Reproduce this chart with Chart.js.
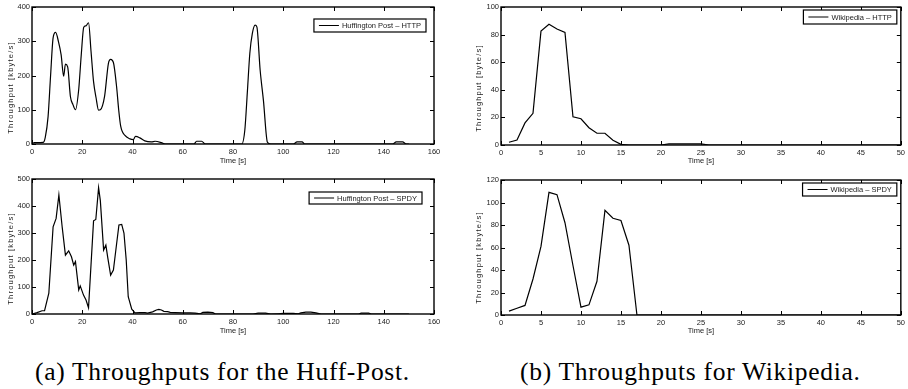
<!DOCTYPE html>
<html>
<head>
<meta charset="utf-8">
<script src="https://cdn.jsdelivr.net/npm/chart.js@4.4.1/dist/chart.umd.min.js"></script>
<style>
  html, body { margin: 0; padding: 0; background: #fff; }
  body { width: 908px; height: 389px; position: relative; overflow: hidden; }
  canvas { position: absolute; }
  .caption {
    position: absolute;
    font-family: 'Liberation Serif', 'DejaVu Serif', serif;
    font-size: 25.5px;
    letter-spacing: 0.7px;
    line-height: 1;
    color: #000;
    white-space: nowrap;
  }
</style>
</head>
<body>
<canvas id="huff-http" width="450" height="168" style="left:0;top:0"></canvas>
<canvas id="huff-spdy" width="450" height="168" style="left:0;top:170px"></canvas>
<canvas id="wiki-http" width="448" height="168" style="left:460px;top:0"></canvas>
<canvas id="wiki-spdy" width="448" height="168" style="left:460px;top:170px"></canvas>
<div class="caption" style="left:35px;top:359px">(a) Throughputs for the Huff-Post.</div>
<div class="caption" style="left:520px;top:359px">(b) Throughputs for Wikipedia.</div>
<script>
// Huffington Post, HTTP (time in s, throughput in kbyte/s)
const huffHttpTime = [0, 1, 4.5, 5.3, 6.4, 7.4, 8.4, 9.4, 10.5, 11.6, 12.6, 13.3, 14.2, 15.3, 16.3, 17.3, 18.6, 19.6,
  20.6, 21.5, 22.5, 23.5, 24.5, 25.5, 26.5, 27.2, 28.9, 30.4, 31.3, 32.4, 33.7, 34.5, 35.3, 37, 39, 40.3, 41.2, 42.9,
  44.9, 47.5, 49, 51.5, 53, 64.5, 65.5, 67.5, 69, 83.5, 84.7, 85.7, 86.7, 87.7, 88.8, 89.5, 90.8, 92.1, 93.7, 95,
  104, 105.5, 107.5, 108.5, 143.5, 145, 147.5, 149, 150];
const huffHttpValues = [2, 4, 5, 20, 80, 200, 310, 326, 300, 260, 198, 233, 225, 138, 115, 100, 160, 260,
  341, 345, 354, 270, 182, 135, 99, 100, 140, 235, 247, 238, 165, 100, 52, 25, 15, 13, 22, 18,
  9, 6, 8, 4, 0, 0, 8, 8, 0, 0, 40, 150, 265, 323, 347, 342, 216, 128, 5, 0,
  0, 6, 6, 0, 0, 6, 6, 0, 0];

// Huffington Post, SPDY
const huffSpdyTime = [0, 2, 4, 5, 6.7, 8.4, 9.6, 10.7, 12, 13.3, 14.6, 15.7, 16.6, 17.3, 18.6, 19.2, 20.5, 21.5,
  22.5, 24.5, 25.4, 26.5, 27.2, 28.5, 29.4, 30.2, 31.3, 32.4, 33.7, 34.6, 35.7, 36.6, 37.5, 38.3, 39.7, 41, 43,
  45, 46, 48, 49.5, 50.5, 51.5, 52.5, 54, 55, 57, 60, 63, 65, 67, 68, 70, 72, 73, 88, 90, 93, 95, 98, 100, 104,
  106, 107, 109, 111, 113, 115, 130, 131, 134, 135, 150];
const huffSpdyValues = [0, 5, 12, 12, 77, 323, 354, 441, 323, 218, 234, 212, 181, 194, 89, 104, 70, 52,
  23, 345, 350, 468, 420, 237, 255, 206, 144, 163, 262, 330, 332, 300, 200, 64, 18, 4, 5,
  5, 3, 8, 15, 17, 15, 10, 9, 6, 5, 4, 4, 3, 1, 6, 7, 5, 0, 0, 3, 3, 0, 1, 2, 2,
  1, 4, 7, 7, 4, 0, 0, 3, 3, 0, 0];

// Wikipedia (time in s)
const wikiTime = [1, 2, 3, 4, 5, 6, 7, 8, 9, 10, 11, 12, 13, 14, 15, 16, 17, 18, 19, 20, 21, 22, 23, 24, 25,
  26, 27, 28, 29, 30, 31, 32, 33, 34, 35, 36, 37, 38, 39, 40, 41, 42, 43, 44, 45, 46, 47, 48, 49, 50];
const wikiHttpValues = [2, 3.6, 16, 23, 82.5, 87.5, 84, 81.5, 20.5, 19, 12.5, 8.5, 8.5, 3.5, 0.5, 0, 0, 0, 0, 0,
  0.8, 0.8, 0.8, 0.8, 0.8, 0, 0, 0, 0, 0, 0, 0, 0, 0, 0, 0, 0, 0, 0, 0, 0, 0, 0, 0, 0, 0, 0, 0, 0, 0];
const wikiSpdyValues = [3.5, 6, 8.5, 32, 61, 109, 107, 82, 44, 7, 9, 30, 93, 86, 84, 62, 0, 0, 0, 0,
  0, 0, 0, 0, 0, 0, 0, 0, 0, 0, 0, 0, 0, 0, 0, 0, 0, 0, 0, 0, 0, 0, 0, 0, 0, 0, 0, 0, 0, 0];

// Tick labels
const huffXTicks = [0, 20, 40, 60, 80, 100, 120, 140, 160];
const huffHttpYTicks = [0, 100, 200, 300, 400];
const huffSpdyYTicks = [0, 100, 200, 300, 400, 500];
const wikiXTicks = [0, 5, 10, 15, 20, 25, 30, 35, 40, 45, 50];
const wikiHttpYTicks = [0, 20, 40, 60, 80, 100];
const wikiSpdyYTicks = [0, 20, 40, 60, 80, 100, 120];

const tickFont = { family: "'Liberation Sans', Arial, sans-serif", size: 7.5 };
const textColor = '#222';

// Рамка в стиле MATLAB: засечки внутрь со всех сторон, легенда в рамке, подпись оси Y
const matlabFrame = {
  id: 'matlabFrame',
  afterDatasetsDraw(chart, args, opts) {
    const { ctx, chartArea: a, scales: { x, y } } = chart;
    ctx.save();
    ctx.strokeStyle = '#000';
    ctx.lineWidth = 1;
    ctx.beginPath();
    x.ticks.forEach(t => {
      const px = Math.round(x.getPixelForValue(t.value)) + 0.5;
      ctx.moveTo(px, a.bottom); ctx.lineTo(px, a.bottom - 4);
      ctx.moveTo(px, a.top); ctx.lineTo(px, a.top + 4);
    });
    y.ticks.forEach(t => {
      const py = Math.round(y.getPixelForValue(t.value)) + 0.5;
      ctx.moveTo(a.left, py); ctx.lineTo(a.left + 4, py);
      ctx.moveTo(a.right, py); ctx.lineTo(a.right - 4, py);
    });
    ctx.stroke();
    ctx.lineWidth = 1.4;
    ctx.strokeRect(a.left, a.top, a.right - a.left, a.bottom - a.top);

    // Легенда
    const label = chart.data.datasets[0].label;
    ctx.font = `${tickFont.size}px ${tickFont.family}`;
    const tw = ctx.measureText(label).width;
    const w = 5 + 20 + 3 + tw + 5;
    const h = opts.legendHeight;
    const right = a.right - opts.legendRight;
    const top = a.top + opts.legendTop;
    const left = right - w;
    ctx.fillStyle = '#fff';
    ctx.fillRect(left, top, w, h);
    ctx.lineWidth = 1.2;
    ctx.strokeRect(left, top, w, h);
    ctx.lineWidth = 1;
    ctx.beginPath();
    ctx.moveTo(left + 5, top + h / 2);
    ctx.lineTo(left + 25, top + h / 2);
    ctx.stroke();
    ctx.fillStyle = textColor;
    ctx.textBaseline = 'middle';
    ctx.textAlign = 'left';
    ctx.fillText(label, left + 28, top + h / 2 + 0.5);

    // Подпись оси Y (разрежённый текст)
    ctx.translate(opts.yTitleX, (a.top + a.bottom) / 2 + opts.yTitleShift);
    ctx.rotate(-Math.PI / 2);
    ctx.letterSpacing = '1.2px';
    ctx.textAlign = 'center';
    ctx.fillText(opts.yTitle, 0, 0);
    ctx.restore();
  }
};

const buildChart = (id, cfg) => {
  const ctx = document.getElementById(id).getContext('2d');
  return new Chart(ctx, {
    type: 'line',
    data: {
      datasets: [{
        label: cfg.label,
        data: cfg.time.map((t, i) => ({ x: t, y: cfg.values[i] })),
        borderColor: '#000',
        borderWidth: 1.2,
        pointRadius: 0,
        fill: false,
        cubicInterpolationMode: cfg.smooth ? 'monotone' : 'default',
        tension: 0
      }]
    },
    options: {
      responsive: false,
      animation: false,
      devicePixelRatio: 1,
      layout: { autoPadding: false, padding: cfg.padding },
      plugins: {
        legend: { display: false },
        tooltip: { enabled: false },
        matlabFrame: cfg.frame
      },
      scales: {
        x: {
          type: 'linear',
          min: cfg.xTicks[0],
          max: cfg.xTicks[cfg.xTicks.length - 1],
          afterBuildTicks: s => { s.ticks = cfg.xTicks.map(v => ({ value: v })); },
          afterFit: s => { s.height = cfg.xHeight; },
          grid: { display: false, drawTicks: false },
          border: { display: false },
          ticks: { padding: 3, color: textColor, font: tickFont, maxRotation: 0, autoSkip: false },
          title: { display: true, text: 'Time [s]', color: textColor, font: tickFont, padding: { top: 0, bottom: 3 } }
        },
        y: {
          type: 'linear',
          min: cfg.yTicks[0],
          max: cfg.yTicks[cfg.yTicks.length - 1],
          afterBuildTicks: s => { s.ticks = cfg.yTicks.map(v => ({ value: v })); },
          afterFit: s => { s.width = cfg.yWidth; },
          grid: { display: false, drawTicks: false },
          border: { display: false },
          ticks: { padding: 2, color: textColor, font: tickFont, autoSkip: false }
        }
      }
    },
    plugins: [matlabFrame]
  });
};

buildChart('huff-http', {
  label: 'Huffington Post \u2013 HTTP',
  time: huffHttpTime, values: huffHttpValues, smooth: true,
  xTicks: huffXTicks, yTicks: huffHttpYTicks,
  padding: { left: 0, top: 7, right: 16, bottom: 0 }, yWidth: 32, xHeight: 24,
  frame: { legendRight: 8, legendTop: 12, legendHeight: 13, yTitle: 'Throughput [kbyte/s]', yTitleX: 10.5, yTitleShift: 12 }
});

buildChart('huff-spdy', {
  label: 'Huffington Post \u2013 SPDY',
  time: huffSpdyTime, values: huffSpdyValues, smooth: false,
  xTicks: huffXTicks, yTicks: huffSpdyYTicks,
  padding: { left: 0, top: 9, right: 16, bottom: 0 }, yWidth: 32, xHeight: 24,
  frame: { legendRight: 12, legendTop: 13, legendHeight: 12, yTitle: 'Throughput [kbyte/s]', yTitleX: 10.5, yTitleShift: 12 }
});

buildChart('wiki-http', {
  label: 'Wikipedia \u2013 HTTP',
  time: wikiTime, values: wikiHttpValues, smooth: false,
  xTicks: wikiXTicks, yTicks: wikiHttpYTicks,
  padding: { left: 0, top: 7, right: 7, bottom: 0 }, yWidth: 41, xHeight: 23,
  frame: { legendRight: 4, legendTop: 3, legendHeight: 14, yTitle: 'Throughput [byte/s]', yTitleX: 18.5, yTitleShift: 12 }
});

buildChart('wiki-spdy', {
  label: 'Wikipedia \u2013 SPDY',
  time: wikiTime, values: wikiSpdyValues, smooth: false,
  xTicks: wikiXTicks, yTicks: wikiSpdyYTicks,
  padding: { left: 0, top: 10, right: 7, bottom: 0 }, yWidth: 41, xHeight: 23,
  frame: { legendRight: 4, legendTop: 3, legendHeight: 13, yTitle: 'Throughput [kbyte/s]', yTitleX: 18.5, yTitleShift: 10 }
});
</script>
</body>
</html>
